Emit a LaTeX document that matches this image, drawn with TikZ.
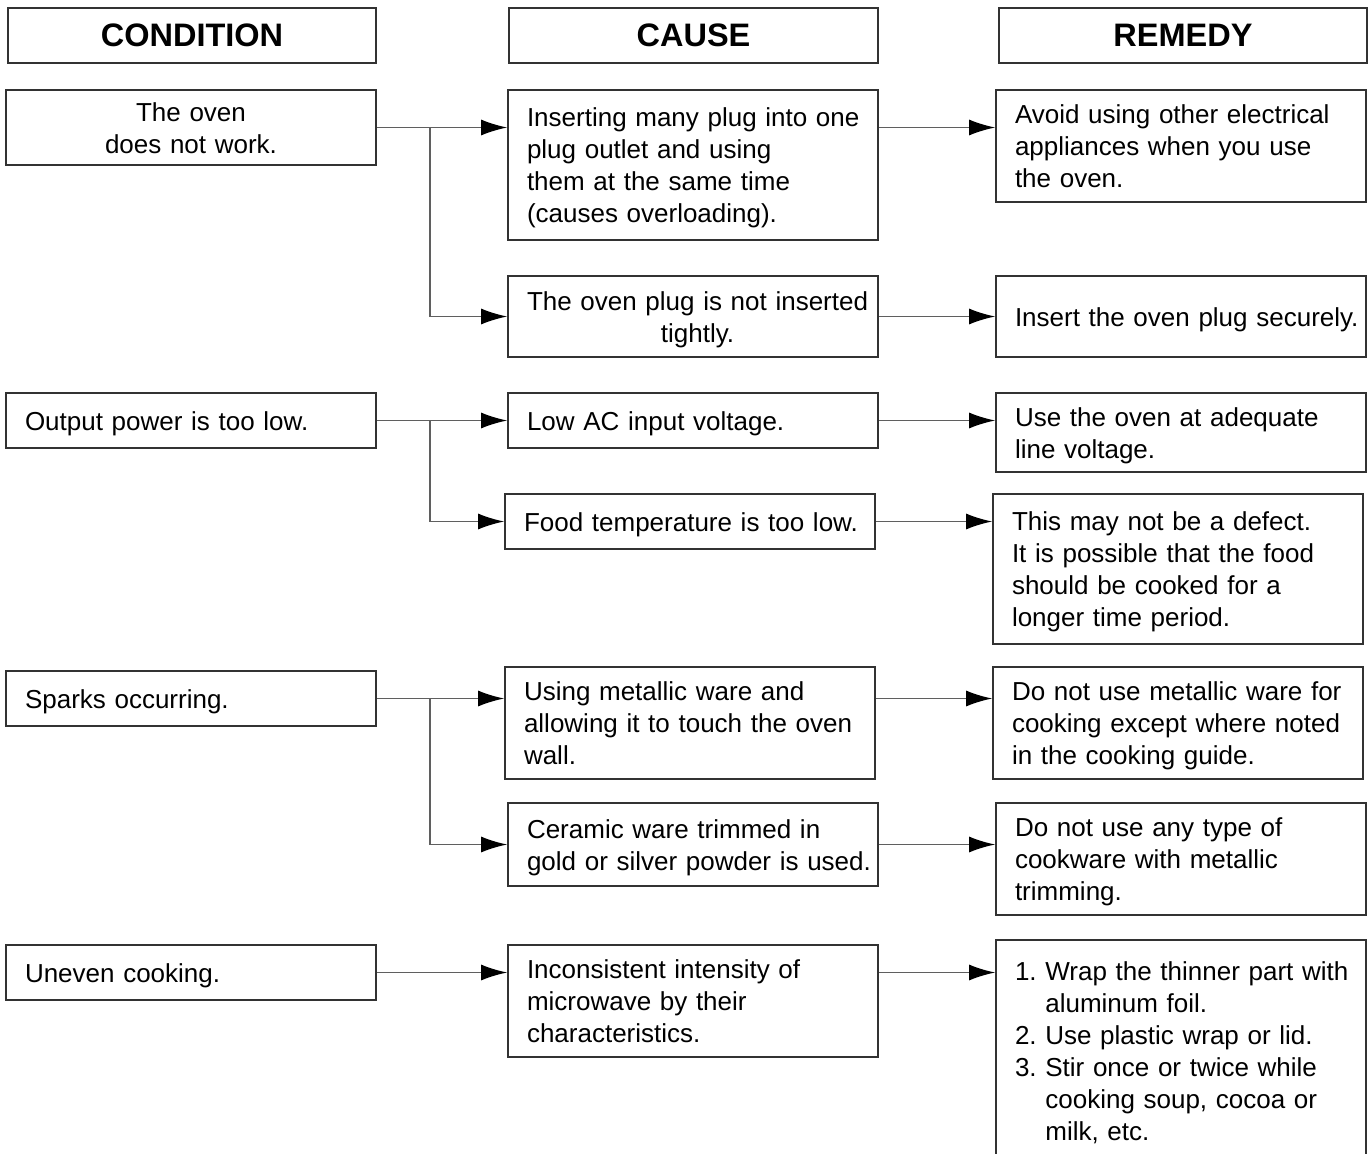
\documentclass[tikz,border=0pt]{standalone}
\usepackage{fontspec}
\setmainfont{Liberation Sans}
\usetikzlibrary{arrows.meta, positioning}
\definecolor{boxgray}{RGB}{50, 50, 50}
\definecolor{linegray}{RGB}{95, 95, 95}
\newcommand{\txtl}[1]{\raisebox{-3.5pt}[\height][\depth]{\begin{tabular}{@{}l@{}}#1\end{tabular}}}
\newcommand{\txtc}[1]{\raisebox{-3.5pt}[\height][\depth]{\begin{tabular}{@{}c@{}}#1\end{tabular}}}
\frenchspacing

\begin{document}
\begin{tikzpicture}[x=1pt, y=-1pt,
  hbox/.style={draw=boxgray, line width=1.7pt, minimum width=368pt, minimum height=55pt, inner sep=0pt, font=\fontsize{32.5}{38}\selectfont\bfseries},
  tbox/.style={draw=boxgray, line width=1.7pt, text width=332pt, minimum width=370pt, inner xsep=19pt, inner ysep=0pt, align=left, font=\fontsize{26}{32}\selectfont},
  link/.style={draw=linegray, line width=1.6pt, -{Latex[length=26pt, width=16pt, color=black]}}
]
  \useasboundingbox (0,0) rectangle (1371,1154);

  % column heads
  \node[hbox] (hcond) at (192,35.5) {CONDITION};
  \node[hbox, minimum width=369pt] (hcause) at (693.5,35.5) {CAUSE};
  \node[hbox] (hrem) at (1183,35.5) {REMEDY};

  % conditions
  \node[tbox, align=center, minimum height=75pt] (cond1) at (191,127.5) {\txtc{The oven\\does not work.}};
  \node[tbox, minimum height=55pt] (cond2) at (191,420.5) {\txtl{Output power is too low.}};
  \node[tbox, minimum height=55pt] (cond3) at (191,698.5) {\txtl{Sparks occurring.}};
  \node[tbox, minimum height=55pt] (cond4) at (191,972.5) {\txtl{Uneven cooking.}};

  % causes
  \node[tbox, minimum height=150pt] (cause1) at (693,165) {\txtl{Inserting many plug into one\\plug outlet and using\\them at the same time\\(causes overloading).}};
  \node[tbox, align=center, minimum height=81pt] (cause2) at (693,316.5) {\txtc{The oven plug is not inserted\\tightly.}};
  \node[tbox, minimum height=55pt] (cause3) at (693,420.5) {\txtl{Low AC input voltage.}};
  \node[tbox, minimum height=55pt] (cause4) at (690,521.5) {\txtl{Food temperature is too low.}};
  \node[tbox, minimum height=112pt] (cause5) at (690,723) {\txtl{Using metallic ware and\\allowing it to touch the oven\\wall.}};
  \node[tbox, minimum height=83pt] (cause6) at (693,844.5) {\txtl{Ceramic ware trimmed in\\gold or silver powder is used.}};
  \node[tbox, minimum height=112pt] (cause7) at (693,1001) {\txtl{Inconsistent intensity of\\microwave by their\\characteristics.}};

  % remedies
  \node[tbox, minimum height=112pt] (rem1) at (1181,146) {\txtl{Avoid using other electrical\\appliances when you use\\the oven.}};
  \node[tbox, minimum height=81pt] (rem2) at (1181,316.5) {\txtl{Insert the oven plug securely.}};
  \node[tbox, minimum height=79pt] (rem3) at (1181,432.5) {\txtl{Use the oven at adequate\\line voltage.}};
  \node[tbox, minimum height=150pt] (rem4) at (1178,569) {\txtl{This may not be a defect.\\It is possible that the food\\should be cooked for a\\longer time period.}};
  \node[tbox, minimum height=112pt] (rem5) at (1178,723) {\txtl{Do not use metallic ware for\\cooking except where noted\\in the cooking guide.}};
  \node[tbox, minimum height=112pt] (rem6) at (1181,859) {\txtl{Do not use any type of\\cookware with metallic\\trimming.}};
  \node[tbox, minimum height=222pt] (rem7) at (1181,1051) {\txtl{1. Wrap the thinner part with\\\phantom{1. }aluminum foil.\\2. Use plastic wrap or lid.\\3. Stir once or twice while\\\phantom{3. }cooking soup, cocoa or\\\phantom{3. }milk, etc.}};

  % branch points
  \path (cond1.east) ++(53,0) coordinate (br1);
  \path (cond2.east) ++(53,0) coordinate (br2);
  \path (cond3.east) ++(53,0) coordinate (br3);

  % condition -> cause
  \draw[link] (cond1.east) -- (cause1.west |- cond1.east);
  \draw[link] (br1) |- (cause2.west);
  \draw[link] (cond2.east) -- (cause3.west);
  \draw[link] (br2) |- (cause4.west);
  \draw[link] (cond3.east) -- (cause5.west |- cond3.east);
  \draw[link] (br3) |- (cause6.west);
  \draw[link] (cond4.east) -- (cause7.west |- cond4.east);

  % cause -> remedy
  \draw[link] (cause1.east |- cond1.east) -- (rem1.west |- cond1.east);
  \draw[link] (cause2.east) -- (rem2.west);
  \draw[link] (cause3.east) -- (rem3.west |- cause3.east);
  \draw[link] (cause4.east) -- (rem4.west |- cause4.east);
  \draw[link] (cause5.east |- cond3.east) -- (rem5.west |- cond3.east);
  \draw[link] (cause6.east) -- (rem6.west |- cause6.east);
  \draw[link] (cause7.east |- cond4.east) -- (rem7.west |- cond4.east);
\end{tikzpicture}
\end{document}
